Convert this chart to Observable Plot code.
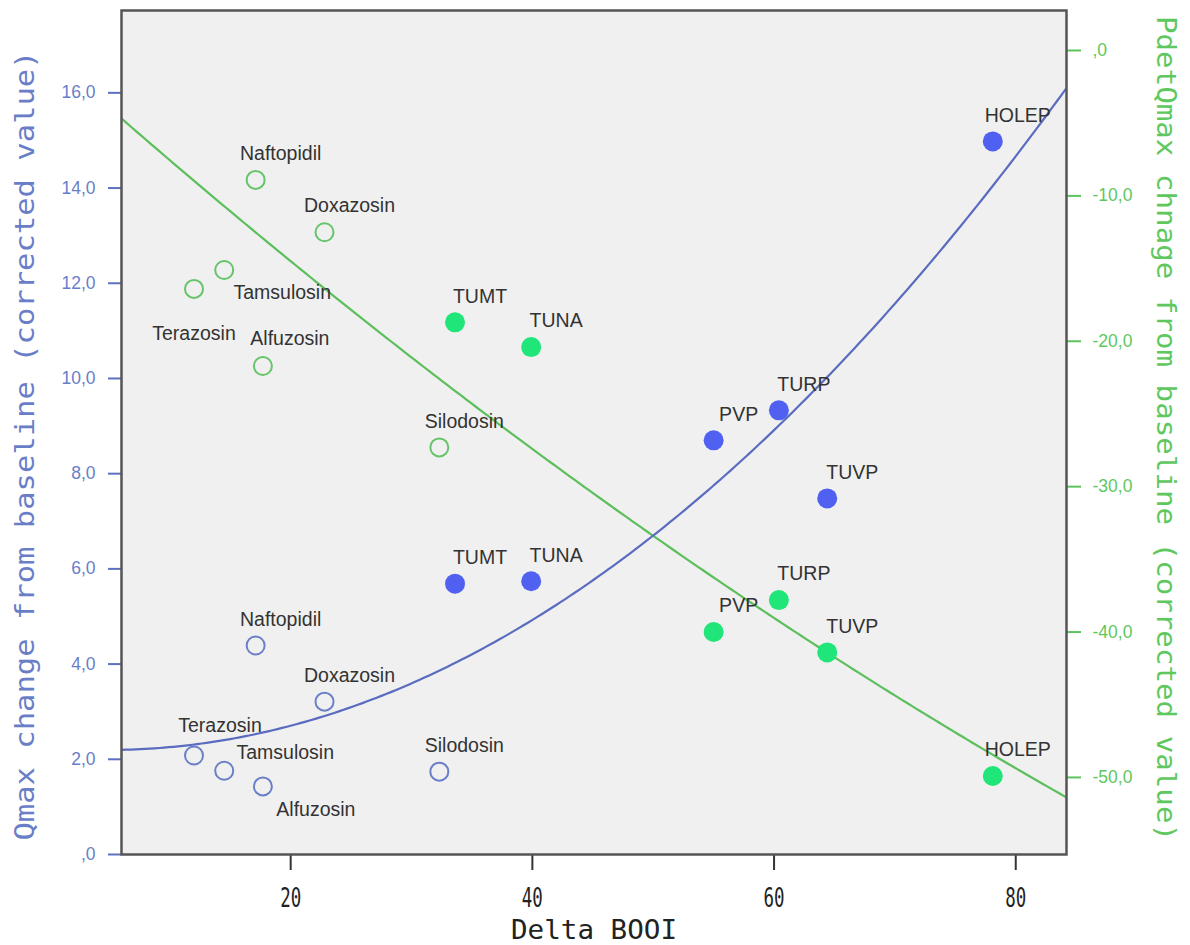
<!DOCTYPE html>
<html><head><meta charset="utf-8">
<script src="https://cdn.jsdelivr.net/npm/d3@7"></script>
<script src="https://cdn.jsdelivr.net/npm/@observablehq/plot@0.6"></script>
<style>body{margin:0;background:#fff}</style>
</head><body><div id="chart"></div>
<script>
// ---- data ----
const names = ["Terazosin","Tamsulosin","Alfuzosin","Naftopidil","Doxazosin","Silodosin","TUMT","TUNA","PVP","TURP","TUVP","HOLEP"];
const kinds = ["drug","drug","drug","drug","drug","drug","procedure","procedure","procedure","procedure","procedure","procedure"];
const deltaBOOI = [12.0,14.5,17.7,17.1,22.8,32.3,33.6,39.9,55.0,60.4,64.4,78.1];
const qmaxChange = [2.08,1.76,1.43,4.39,3.21,1.74,5.69,5.74,8.70,9.33,7.48,14.98];
const pdetChange = [-16.4,-15.1,-21.7,-8.9,-12.5,-27.3,-18.7,-20.4,-40.0,-37.8,-41.4,-49.9];
// quadratic fit lines (a + b·x + c·x²) as drawn in the reference
const qmaxFitCoef = [2.248, -0.0213, 0.002207];
const pdetFitCoef = [-0.282, -0.7427, 0.001614];
const xTicks = [20,40,60,80];
const leftTicks = [0,2,4,6,8,10,12,14,16];
const rightTicks = [0,-10,-20,-30,-40,-50];
const xDomain = [6, 84.2];
const leftDomain = [0, 17.73];
const rightDomain = [-55.3, 2.75];
const xLabel = "Delta BOOI";
const leftLabel = "Qmax change from baseline (corrected value)";
const rightLabel = "PdetQmax chnage from baseline (corrected value)";

// ---- styling ----
const BLUE_AXIS = "#6a7ec8", BLUE_TICK = "#5d70c2", BLUE_LINE = "#5a6cc0", BLUE_FILL = "#5061f2", BLUE_OPEN = "#6a7fc8";
const GREEN_AXIS = "#5ec85e", GREEN_TICK = "#5cc45c", GREEN_LINE = "#5cbf5c", GREEN_FILL = "#20e67a", GREEN_OPEN = "#66c46a";
const MONO = "DejaVu Sans Mono";
const SANS = "Liberation Sans, Arial, sans-serif";

const rows = names.map((n, i) => ({name: n, kind: kinds[i], x: deltaBOOI[i], q: qmaxChange[i], p: pdetChange[i]}));
// map right-axis values onto the left scale
const toLeft = v => (v - rightDomain[0]) / (rightDomain[1] - rightDomain[0]) * (leftDomain[1] - leftDomain[0]) + leftDomain[0];
const fromLeft = v => (v - leftDomain[0]) / (leftDomain[1] - leftDomain[0]) * (rightDomain[1] - rightDomain[0]) + rightDomain[0];
rows.forEach(r => r.pL = toLeft(r.p));

const fmt = v => { const r = Math.round(v * 10) / 10; return r === 0 ? ",0" : r.toFixed(1).replace(".", ","); };

const poly = c => x => c[0] + c[1]*x + c[2]*x*x;
const fq = poly(qmaxFitCoef), fp = poly(pdetFitCoef);
const xs = d3.range(0, 201).map(i => xDomain[0] + (xDomain[1] - xDomain[0]) * i / 200);
const fitQ = xs.map(x => ({x, y: fq(x)}));
const fitP = xs.map(x => ({x, y: toLeft(fp(x))}));

// label offsets (style): default above-right
const offsets = {
  q: {Tamsulosin: [61, -18], Alfuzosin: [53, 23], Terazosin: [26, -30]},
  p: {Tamsulosin: [58, 23], Terazosin: [0, 45], Alfuzosin: [27, -27]}
};
function labels(key, yKey) {
  return rows.map(r => {
    const [dx, dy] = offsets[key][r.name] || [25, -26];
    return Plot.text([r], {x: "x", y: yKey, text: "name", dx, dy, fill: "#333", fontSize: 19.5, fontFamily: SANS});
  });
}

const svg = Plot.plot({
  width: 1190, height: 945,
  marginLeft: 121, marginRight: 124, marginTop: 10, marginBottom: 91,
  style: {background: "#fff", overflow: "visible"},
  x: {domain: xDomain},
  y: {domain: leftDomain},
  marks: [
    Plot.frame({fill: "#f0f0f0"}),
    Plot.axisY(leftTicks, {anchor: "left", tickSize: 13, tickPadding: 13, tickFormat: fmt, stroke: BLUE_TICK, fill: BLUE_AXIS, fontSize: 17.5, fontFamily: SANS, strokeWidth: 2, label: null}),
    Plot.axisY(rightTicks.map(toLeft), {anchor: "right", tickSize: 14, tickPadding: 12, tickFormat: d => fmt(fromLeft(d)), stroke: GREEN_TICK, fill: GREEN_AXIS, fontSize: 17.5, fontFamily: SANS, strokeWidth: 2, label: null}),
    Plot.axisX(xTicks, {anchor: "bottom", tickSize: 16, tickPadding: 18, stroke: "#333", fill: "#222", fontSize: 26, fontFamily: MONO, strokeWidth: 2, label: null}),
    Plot.line(fitP, {x: "x", y: "y", stroke: GREEN_LINE, strokeWidth: 2.2, clip: true}),
    Plot.line(fitQ, {x: "x", y: "y", stroke: BLUE_LINE, strokeWidth: 2.2, clip: true}),
    Plot.dot(rows.filter(r => r.kind === "drug"), {x: "x", y: "q", r: 9, fill: "none", stroke: BLUE_OPEN, strokeWidth: 2}),
    Plot.dot(rows.filter(r => r.kind === "drug"), {x: "x", y: "pL", r: 9, fill: "none", stroke: GREEN_OPEN, strokeWidth: 2}),
    Plot.dot(rows.filter(r => r.kind === "procedure"), {x: "x", y: "q", r: 10, fill: BLUE_FILL}),
    Plot.dot(rows.filter(r => r.kind === "procedure"), {x: "x", y: "pL", r: 10, fill: GREEN_FILL}),
    ...labels("q", "q"),
    ...labels("p", "pL"),
    Plot.frame({stroke: "#555", strokeWidth: 2.5}),
    Plot.text([leftLabel], {frameAnchor: "left", textAnchor: "middle", dx: -96, dy: 13, rotate: -90, fill: BLUE_AXIS, fontSize: 27, fontFamily: MONO}),
    Plot.text([rightLabel], {frameAnchor: "right", textAnchor: "middle", dx: 99, dy: -4, rotate: 90, fill: GREEN_AXIS, fontSize: 27, fontFamily: MONO}),
    Plot.text([xLabel], {frameAnchor: "bottom", textAnchor: "middle", lineAnchor: "bottom", dy: 84, fill: "#222", fontSize: 27, fontFamily: MONO})
  ]
});

// condensed monospace look: fix text lengths
const lengths = {[xLabel]: 166, [leftLabel]: 790, [rightLabel]: 825};
svg.querySelectorAll(`g[font-family="${MONO}"] text`).forEach(t => {
  const L = lengths[t.textContent] || 21;
  t.setAttribute("textLength", L);
  t.setAttribute("lengthAdjust", "spacingAndGlyphs");
});
document.getElementById("chart").append(svg);
</script>
</body></html>
